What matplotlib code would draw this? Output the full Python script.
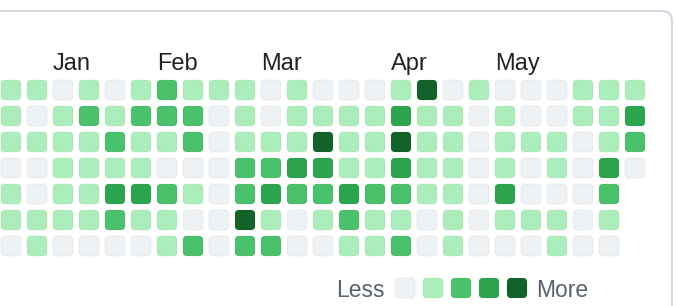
import matplotlib
matplotlib.use('Agg')
import matplotlib.pyplot as plt
from matplotlib.patches import FancyBboxPatch

# contribution levels, one list per weekday row (-1 = no cell yet)
row0 = [1, 1, 0, 1, 0, 1, 2, 1, 1, 1, 0, 1, 0, 0, 0, 1, 4, 0, 1, 0, 0, 0, 1, 1, 1]
row1 = [1, 0, 1, 2, 1, 2, 2, 2, 0, 1, 0, 1, 1, 1, 1, 3, 1, 1, 0, 1, 0, 0, 1, 1, 3]
row2 = [1, 1, 1, 1, 2, 1, 1, 2, 0, 1, 1, 1, 4, 1, 1, 4, 1, 1, 0, 1, 1, 1, 0, 1, 2]
row3 = [0, 0, 1, 1, 1, 1, 0, 0, 0, 2, 2, 3, 3, 1, 1, 3, 1, 1, 0, 1, 0, 1, 0, 3, 0]
row4 = [1, 0, 1, 1, 3, 3, 2, 1, 0, 2, 3, 2, 2, 3, 2, 2, 1, 1, 0, 3, 0, 0, 0, 2, -1]
row5 = [1, 1, 1, 1, 2, 1, 1, 0, 0, 4, 1, 0, 1, 2, 1, 1, 0, 1, 0, 1, 1, 1, 0, 1, -1]
row6 = [0, 1, 0, 0, 0, 0, 1, 2, 0, 2, 2, 0, 0, 1, 1, 2, 0, 1, 0, 0, 0, 1, 0, 0, -1]
levels = [row0, row1, row2, row3, row4, row5, row6]

months = ['Jan', 'Feb', 'Mar', 'Apr', 'May']
month_cols = [2, 6, 10, 15, 19]

# github palette
colors = ['#eff2f5', '#aceebb', '#4ac26b', '#2da44e', '#116329']

# layout in pixels
x0, y0 = 1, 80
pitch = 26
cell = 20

fig = plt.figure(figsize=(6.76, 3.06), dpi=100)
ax = fig.add_axes([0, 0, 1, 1])
ax.set_xlim(0, 676)
ax.set_ylim(306, 0)
ax.axis('off')

# card border (left and bottom are cut off)
card = FancyBboxPatch((-40, 11), 712, 340, boxstyle='round,pad=0,rounding_size=10',
                      fc='white', ec='#d1d9e0', lw=1.5)
ax.add_patch(card)

def square(x, y, lvl):
    p = FancyBboxPatch((x, y), cell, cell, boxstyle='round,pad=0,rounding_size=4',
                       fc=colors[lvl], ec=(31/255, 35/255, 40/255, 0.05), lw=0.8)
    ax.add_patch(p)

for r, row in enumerate(levels):
    for c, lvl in enumerate(row):
        if lvl < 0:
            continue
        square(x0 + c * pitch, y0 + r * pitch, lvl)

for name, c in zip(months, month_cols):
    ax.text(x0 + c * pitch, 70, name, ha='left', va='baseline', fontsize=17,
            color='#1f2328', family='Liberation Sans')

# legend
ax.text(385, 297, 'Less', ha='right', va='baseline', fontsize=16.5,
        color='#59636e', family='Liberation Sans')
for i in range(5):
    square(395 + 28 * i, 278, i)
ax.text(536, 297, 'More', ha='left', va='baseline', fontsize=16.5,
        color='#59636e', family='Liberation Sans')

fig.savefig('out.png', dpi=100)
